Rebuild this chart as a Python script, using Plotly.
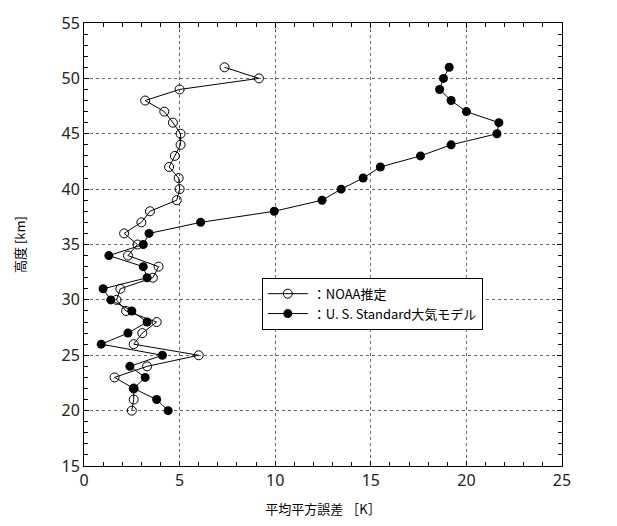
import plotly.graph_objects as go

altitude_km = list(range(20, 52))
noaa_err = [2.5, 2.6, 2.6, 1.6, 3.3, 6.0, 2.6, 3.05, 3.8, 2.2, 1.7, 1.9, 3.6, 3.9, 2.3, 2.8,
            2.1, 3.0, 3.45, 4.85, 5.0, 4.95, 4.45, 4.75, 5.05, 5.05, 4.65, 4.2, 3.2, 5.0, 9.15, 7.35]
usstd_err = [4.4, 3.8, 2.6, 3.2, 2.4, 4.1, 0.9, 2.3, 3.3, 2.5, 1.4, 1.0, 3.3, 3.1, 1.3, 3.1,
             3.4, 6.1, 9.95, 12.45, 13.45, 14.6, 15.5, 17.6, 19.2, 21.6, 21.7, 20.0, 19.2, 18.6, 18.8, 19.1]

x_ticks = [0, 5, 10, 15, 20, 25]
y_ticks = [15, 20, 25, 30, 35, 40, 45, 50, 55]

fig = go.Figure()
fig.add_trace(go.Scatter(
    x=noaa_err, y=altitude_km, mode="lines+markers", name="：NOAA推定",
    line=dict(color="black", width=1),
    marker=dict(symbol="circle-open", size=9, color="black", line=dict(width=1)),
))
fig.add_trace(go.Scatter(
    x=usstd_err, y=altitude_km, mode="lines+markers", name="：U. S. Standard大気モデル",
    line=dict(color="black", width=1),
    marker=dict(symbol="circle", size=9, color="black"),
))

tickfont = dict(family="Noto Sans, DejaVu Sans, sans-serif", size=16, color="#222")
titlefont = dict(family="Noto Sans CJK JP, sans-serif", size=13, color="black")
fig.update_layout(
    width=617, height=526,
    margin=dict(l=84, r=55, t=20, b=59),
    paper_bgcolor="white", plot_bgcolor="white",
    showlegend=True,
    legend=dict(
        x=0.372, y=0.425, xanchor="left", yanchor="top",
        bgcolor="white", bordercolor="black", borderwidth=1,
        font=dict(family="Noto Sans CJK JP, sans-serif", size=13, color="black"),
        tracegroupgap=4, itemwidth=40,
    ),
    xaxis=dict(
        range=[0, 25], tickvals=x_ticks, tickfont=tickfont,
        showgrid=True, gridcolor="#666", griddash="dot", gridwidth=1,
        showline=True, linecolor="black", linewidth=1, mirror="ticks",
        ticks="inside", ticklen=5, tickcolor="black",
        minor=dict(dtick=1, ticks="inside", ticklen=4, tickcolor="black", showgrid=False),
        zeroline=False,
        title=dict(text="平均平方誤差 ［K］", font=titlefont, standoff=14),
    ),
    yaxis=dict(
        range=[15, 55], tickvals=y_ticks, tickfont=tickfont,
        showgrid=True, gridcolor="#666", griddash="dot", gridwidth=1,
        showline=True, linecolor="black", linewidth=1, mirror="ticks",
        ticks="inside", ticklen=5, tickcolor="black",
        minor=dict(dtick=1, ticks="inside", ticklen=4, tickcolor="black", showgrid=False),
        zeroline=False,
        title=dict(text="高度 [km]", font=titlefont, standoff=32),
    ),
)

fig.write_html("out.html")
